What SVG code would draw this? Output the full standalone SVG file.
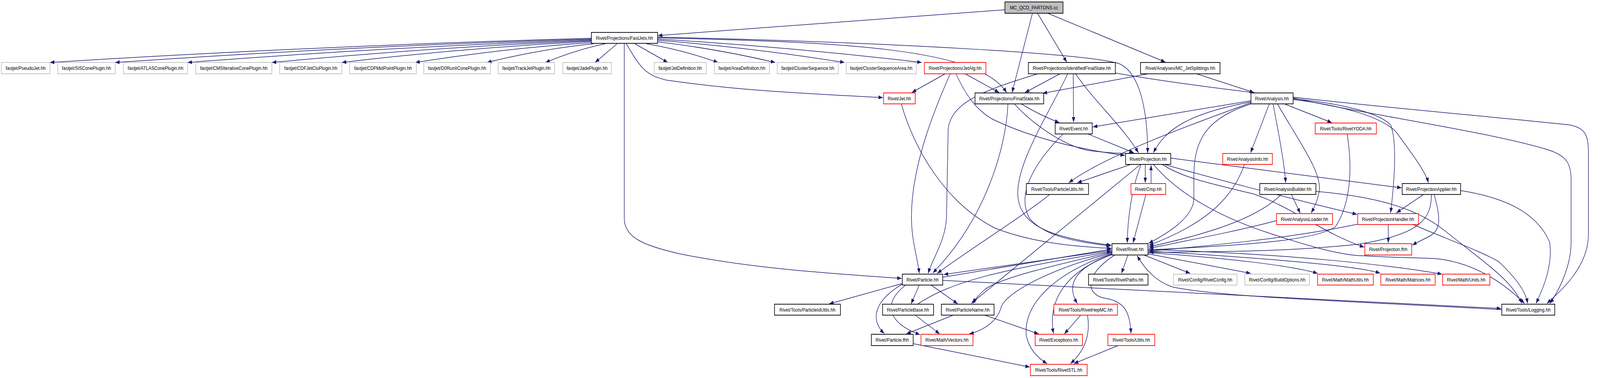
<svg xmlns="http://www.w3.org/2000/svg" width="4680" height="968" viewBox="0 0 4680 968">
<style>
.bg{fill:#fff}
.e{fill:none;stroke:#191970;stroke-width:1.5;marker-end:url(#a)}
.node rect{fill:#fff;stroke:#000;stroke-width:1.8}
.red rect{stroke:#ff0000}
.gray rect{stroke:#bfbfbf}
.root rect{fill:#bfbfbf}
.node text{font-family:"Liberation Sans",Arial,Helvetica,sans-serif;font-size:13px;text-anchor:middle;fill:#000}
</style>
<defs>
<marker id="a" markerUnits="userSpaceOnUse" markerWidth="14" markerHeight="10" refX="13" refY="5" orient="auto">
<path d="M0,0 L13,5 L0,10 z" fill="#191970"/>
</marker>
</defs>
<rect class="bg" x="0" y="0" width="4680" height="968"/>
<g id="diagram" transform="scale(0.87 1)">
<g id="edges">
<path class="e" d="M2957,25 L1936,91"/>
<path class="e" d="M3038,34 L2978,237"/>
<path class="e" d="M3053,34 L3139,159"/>
<path class="e" d="M3083,34 L3429,159"/>
<path class="e" d="M1740,98 Q943,117 147,160"/>
<path class="e" d="M1740,100 Q1040,118 339,160"/>
<path class="e" d="M1740,102 Q1146,120 552,160"/>
<path class="e" d="M1740,104 Q1270,121 800,160"/>
<path class="e" d="M1740,106 Q1373,122 1006,160"/>
<path class="e" d="M1742,109 Q1480,124 1222,160"/>
<path class="e" d="M1747,112 Q1590,126 1433,160"/>
<path class="e" d="M1781,112 Q1693,128 1605,160"/>
<path class="e" d="M1816,112 L1751,160"/>
<path class="e" d="M1868,112 L1965,160"/>
<path class="e" d="M1902,112 Q2010,128 2113,160"/>
<path class="e" d="M1935,107 Q2110,125 2281,160"/>
<path class="e" d="M1935,103 Q2210,122 2485,160"/>
<path class="e" d="M1935,100 Q2320,120 2712,160"/>
<path class="e" d="M1936,97 C2500,108 2880,125 2962,237"/>
<path class="e" d="M1936,95 C2700,110 3200,140 3290,162 C3360,185 3377,300 3377,392"/>
<path class="e" d="M1843,112 C1885,175 1900,192 1960,205 C2200,235 2400,240 2598,250"/>
<path class="e" d="M1837,112 L1837,560 C1837,610 1900,630 2000,650 C2200,685 2400,698 2653,713"/>
<path class="e" d="M2781,189 L2683,237"/>
<path class="e" d="M2840,189 L2940,237"/>
<path class="e" d="M2796,189 C2760,260 2680,420 2682,560 C2683,620 2700,660 2705,700"/>
<path class="e" d="M2813,189 C2840,240 2870,280 2920,305 C3050,360 3200,385 3310,398"/>
<path class="e" d="M2652,266 C2690,380 2780,520 2930,585 C3050,625 3180,632 3270,636"/>
<path class="e" d="M2966,266 C2960,380 2900,560 2745,699"/>
<path class="e" d="M2985,266 C3030,310 3120,370 3200,385 C3260,392 3300,394 3336,392"/>
<path class="e" d="M3005,266 C3050,290 3090,305 3117,314"/>
<path class="e" d="M3119,189 L3016,237"/>
<path class="e" d="M3379,189 L3068,239"/>
<path class="e" d="M3054,189 C2900,230 2800,260 2790,330 L2785,560 C2780,620 2745,660 2731,700"/>
<path class="e" d="M3158,189 L3159,313"/>
<path class="e" d="M3165,189 C3220,260 3300,320 3350,391"/>
<path class="e" d="M3142,189 C3080,300 2990,420 2995,500 C3000,580 3100,610 3270,628"/>
<path class="e" d="M3282,187 C3700,250 4300,290 4620,320 C4670,330 4674,350 4674,400 L4674,600 C4674,680 4600,740 4552,777"/>
<path class="e" d="M3521,189 L3690,237"/>
<path class="e" d="M3201,343 L3336,391"/>
<path class="e" d="M3128,343 C3040,420 2990,500 3030,560 C3080,610 3180,620 3268,630"/>
<path class="e" d="M3681,258 L3216,325"/>
<path class="e" d="M3681,261 C3500,290 3430,330 3394,391"/>
<path class="e" d="M3681,263 C3500,320 3250,400 3145,468"/>
<path class="e" d="M3681,266 C3560,300 3513,350 3513,450 L3513,510 C3510,560 3430,600 3380,623"/>
<path class="e" d="M3735,266 L3680,391"/>
<path class="e" d="M3746,266 C3760,330 3780,420 3783,468"/>
<path class="e" d="M3759,266 C3820,360 3890,440 3882,490 C3875,520 3865,535 3858,545"/>
<path class="e" d="M3779,266 L3919,314"/>
<path class="e" d="M3806,255 C3950,270 4070,300 4110,340 C4160,400 4195,440 4203,468"/>
<path class="e" d="M3806,253 C3950,265 4060,290 4092,320 C4110,360 4105,450 4092,545"/>
<path class="e" d="M3806,251 C4000,290 4400,340 4560,385 C4610,400 4623,420 4623,460 L4623,620 C4623,680 4590,740 4561,777"/>
<path class="e" d="M3964,343 C3980,430 3975,520 3930,580 C3870,620 3600,630 3381,640"/>
<path class="e" d="M3662,421 C3630,500 3560,570 3381,628"/>
<path class="e" d="M3770,498 C3700,560 3550,600 3381,632"/>
<path class="e" d="M3800,498 L3826,546"/>
<path class="e" d="M3872,490 C4000,500 4150,520 4250,590 C4380,680 4450,720 4478,777"/>
<path class="e" d="M3756,565 C3650,590 3500,615 3381,636"/>
<path class="e" d="M3995,574 C3800,610 3550,630 3381,643"/>
<path class="e" d="M4085,575 L4085,622"/>
<path class="e" d="M4158,575 C4250,610 4350,640 4410,670 C4470,720 4490,750 4495,777"/>
<path class="e" d="M4189,498 L4109,545"/>
<path class="e" d="M4212,498 C4212,560 4180,600 4000,625 C3800,645 3550,645 3381,646"/>
<path class="e" d="M4220,498 C4240,560 4240,590 4206,605 C4185,615 4170,620 4156,628"/>
<path class="e" d="M4298,488 C4420,505 4520,540 4560,620 C4570,680 4540,740 4520,777"/>
<path class="e" d="M3446,405 L4124,481"/>
<path class="e" d="M3426,421 C3520,445 3800,510 3993,549"/>
<path class="e" d="M3420,421 C3480,455 3560,470 3690,497 C3800,530 3900,600 4014,633"/>
<path class="e" d="M3394,421 C3470,500 3600,560 3745,600 C3850,630 3950,655 4013,655 C4100,660 4180,660 4220,662 C4330,670 4420,720 4486,777"/>
<path class="e" d="M3328,421 L3170,468"/>
<path class="e" d="M3356,421 L2858,777"/>
<path class="e" d="M3358,421 C3330,480 3318,560 3317,622"/>
<path class="e" d="M3370,421 L3370,468"/>
<path class="e" d="M3387,470 L3387,423"/>
<path class="e" d="M3372,498 L3334,622"/>
<path class="e" d="M3089,498 C3000,560 2850,640 2758,700"/>
<path class="e" d="M3319,653 L3300,700"/>
<path class="e" d="M3366,653 L3502,700"/>
<path class="e" d="M3378,650 L3680,700"/>
<path class="e" d="M3378,647 C3600,660 3800,680 3877,700"/>
<path class="e" d="M3378,643 C3700,660 4000,680 4061,700"/>
<path class="e" d="M3378,639 C3800,650 4100,680 4243,702"/>
<path class="e" d="M2774,718 C3200,740 3800,760 4417,790"/>
<path class="e" d="M4419,793 C4000,772 3600,762 3450,735 C3400,720 3370,690 3346,655"/>
<path class="e" d="M3275,650 C3180,680 3130,720 3170,777"/>
<path class="e" d="M3272,652 C3150,690 3080,760 3100,854"/>
<path class="e" d="M3272,649 C3100,700 3010,780 3020,860 C3030,900 3060,920 3081,931"/>
<path class="e" d="M3280,653 C3180,710 3200,760 3260,765 C3310,775 3325,800 3328,854"/>
<path class="e" d="M3272,647 C3050,700 2950,760 2945,790 C2930,830 2880,850 2852,855"/>
<path class="e" d="M3272,645 C3100,680 2950,710 2900,740 C2880,755 2870,765 2864,777"/>
<path class="e" d="M3272,641 L2777,703"/>
<path class="e" d="M2774,710 L3270,638"/>
<path class="e" d="M2700,779 C2800,720 2950,690 3270,644"/>
<path class="e" d="M2655,726 L2440,778"/>
<path class="e" d="M2705,730 L2681,778"/>
<path class="e" d="M2740,730 L2818,778"/>
<path class="e" d="M2660,725 C2570,770 2560,820 2602,854"/>
<path class="e" d="M2665,730 C2590,780 2620,830 2707,857"/>
<path class="e" d="M2693,807 L2765,855"/>
<path class="e" d="M2805,807 L2667,855"/>
<path class="e" d="M2897,807 L3056,855"/>
<path class="e" d="M3180,807 L3132,855"/>
<path class="e" d="M3200,807 C3210,860 3190,900 3150,931"/>
<path class="e" d="M3290,885 L3160,931"/>
<path class="e" d="M2687,880 L3030,940"/>
</g>
<g id="n_mc" class="node root"><rect x="2957" y="5" width="171" height="29"/><text x="3042.5" y="24">MC_QCD_PARTONS.cc</text></g>
<g id="n_fastjets" class="node"><rect x="1740" y="83" width="195" height="28"/><text x="1837.5" y="102">Rivet/Projections/FastJets.hh</text></g>
<g id="n_pseudojet" class="node gray"><rect x="4" y="160" width="143" height="29"/><text x="75.5" y="179">fastjet/PseudoJet.hh</text></g>
<g id="n_siscone" class="node gray"><rect x="170" y="160" width="169" height="29"/><text x="254.5" y="179">fastjet/SISConePlugin.hh</text></g>
<g id="n_atlascone" class="node gray"><rect x="363" y="160" width="189" height="29"/><text x="457.5" y="179">fastjet/ATLASConePlugin.hh</text></g>
<g id="n_cmsit" class="node gray"><rect x="576" y="160" width="224" height="29"/><text x="688" y="179">fastjet/CMSIterativeConePlugin.hh</text></g>
<g id="n_cdfjetclu" class="node gray"><rect x="823" y="160" width="183" height="29"/><text x="914.5" y="179">fastjet/CDFJetCluPlugin.hh</text></g>
<g id="n_cdfmid" class="node gray"><rect x="1029" y="160" width="196" height="29"/><text x="1127" y="179">fastjet/CDFMidPointPlugin.hh</text></g>
<g id="n_d0run" class="node gray"><rect x="1247" y="160" width="196" height="29"/><text x="1345" y="179">fastjet/D0RunIIConePlugin.hh</text></g>
<g id="n_trackjet" class="node gray"><rect x="1466" y="160" width="166" height="29"/><text x="1549" y="179">fastjet/TrackJetPlugin.hh</text></g>
<g id="n_jade" class="node gray"><rect x="1656" y="160" width="143" height="29"/><text x="1727.5" y="179">fastjet/JadePlugin.hh</text></g>
<g id="n_jetdef" class="node gray"><rect x="1925" y="160" width="153" height="29"/><text x="2001.5" y="179">fastjet/JetDefinition.hh</text></g>
<g id="n_areadef" class="node gray"><rect x="2102" y="160" width="162" height="29"/><text x="2183" y="179">fastjet/AreaDefinition.hh</text></g>
<g id="n_clseq" class="node gray"><rect x="2287" y="160" width="180" height="29"/><text x="2377" y="179">fastjet/ClusterSequence.hh</text></g>
<g id="n_clseqarea" class="node gray"><rect x="2490" y="160" width="206" height="29"/><text x="2593" y="179">fastjet/ClusterSequenceArea.hh</text></g>
<g id="n_jetalg" class="node red"><rect x="2720" y="160" width="181" height="29"/><text x="2810.5" y="179">Rivet/Projections/JetAlg.hh</text></g>
<g id="n_ifs" class="node"><rect x="3026" y="160" width="256" height="29"/><text x="3154" y="179">Rivet/Projections/IdentifiedFinalState.hh</text></g>
<g id="n_mcjs" class="node"><rect x="3356" y="160" width="234" height="29"/><text x="3473" y="179">Rivet/Analyses/MC_JetSplittings.hh</text></g>
<g id="n_jet" class="node red"><rect x="2600" y="238" width="93" height="28"/><text x="2646.5" y="257">Rivet/Jet.hh</text></g>
<g id="n_finalstate" class="node"><rect x="2869" y="238" width="202" height="28"/><text x="2970" y="257">Rivet/Projections/FinalState.hh</text></g>
<g id="n_analysis" class="node"><rect x="3681" y="238" width="124" height="28"/><text x="3743" y="257">Rivet/Analysis.hh</text></g>
<g id="n_event" class="node"><rect x="3105" y="315" width="109" height="28"/><text x="3159.5" y="334">Rivet/Event.hh</text></g>
<g id="n_yoda" class="node red"><rect x="3870" y="315" width="180" height="28"/><text x="3960" y="334">Rivet/Tools/RivetYODA.hh</text></g>
<g id="n_projection" class="node"><rect x="3312" y="393" width="133" height="28"/><text x="3378.5" y="412">Rivet/Projection.hh</text></g>
<g id="n_anainfo" class="node red"><rect x="3598" y="393" width="146" height="28"/><text x="3671" y="412">Rivet/AnalysisInfo.hh</text></g>
<g id="n_partutils" class="node"><rect x="3020" y="470" width="183" height="28"/><text x="3111.5" y="489">Rivet/Tools/ParticleUtils.hh</text></g>
<g id="n_cmp" class="node red"><rect x="3328" y="470" width="102" height="28"/><text x="3379" y="489">Rivet/Cmp.hh</text></g>
<g id="n_anabuilder" class="node"><rect x="3707" y="470" width="165" height="28"/><text x="3789.5" y="489">Rivet/AnalysisBuilder.hh</text></g>
<g id="n_projapplier" class="node"><rect x="4126" y="470" width="172" height="28"/><text x="4212" y="489">Rivet/ProjectionApplier.hh</text></g>
<g id="n_analoader" class="node red"><rect x="3756" y="547" width="165" height="28"/><text x="3838.5" y="566">Rivet/AnalysisLoader.hh</text></g>
<g id="n_projhandler" class="node red"><rect x="3995" y="547" width="179" height="28"/><text x="4084.5" y="566">Rivet/ProjectionHandler.hh</text></g>
<g id="n_rivet" class="node"><rect x="3272" y="624" width="106" height="29"/><text x="3325" y="643">Rivet/Rivet.hh</text></g>
<g id="n_projfhh" class="node red"><rect x="4016" y="624" width="138" height="29"/><text x="4085" y="643">Rivet/Projection.fhh</text></g>
<g id="n_particle" class="node"><rect x="2655" y="702" width="119" height="28"/><text x="2714.5" y="721">Rivet/Particle.hh</text></g>
<g id="n_rivetpaths" class="node"><rect x="3203" y="702" width="175" height="28"/><text x="3290.5" y="721">Rivet/Tools/RivetPaths.hh</text></g>
<g id="n_rivetconfig" class="node gray"><rect x="3453" y="702" width="187" height="28"/><text x="3546.5" y="721">Rivet/Config/RivetConfig.hh</text></g>
<g id="n_buildopts" class="node gray"><rect x="3663" y="702" width="190" height="28"/><text x="3758" y="721">Rivet/Config/BuildOptions.hh</text></g>
<g id="n_mathutils" class="node red"><rect x="3877" y="702" width="164" height="28"/><text x="3959" y="721">Rivet/Math/MathUtils.hh</text></g>
<g id="n_matrices" class="node red"><rect x="4063" y="702" width="160" height="28"/><text x="4143" y="721">Rivet/Math/Matrices.hh</text></g>
<g id="n_units" class="node red"><rect x="4245" y="702" width="139" height="28"/><text x="4314.5" y="721">Rivet/Math/Units.hh</text></g>
<g id="n_pidutils" class="node"><rect x="2279" y="779" width="194" height="28"/><text x="2376" y="798">Rivet/Tools/ParticleIdUtils.hh</text></g>
<g id="n_partbase" class="node"><rect x="2597" y="779" width="150" height="28"/><text x="2672" y="798">Rivet/ParticleBase.hh</text></g>
<g id="n_partname" class="node"><rect x="2770" y="779" width="155" height="28"/><text x="2847.5" y="798">Rivet/ParticleName.hh</text></g>
<g id="n_hepmc" class="node red"><rect x="3101" y="779" width="187" height="28"/><text x="3194.5" y="798">Rivet/Tools/RivetHepMC.hh</text></g>
<g id="n_logging" class="node"><rect x="4419" y="779" width="156" height="28"/><text x="4497" y="798">Rivet/Tools/Logging.hh</text></g>
<g id="n_partfhh" class="node"><rect x="2564" y="856" width="123" height="29"/><text x="2625.5" y="875">Rivet/Particle.fhh</text></g>
<g id="n_vectors" class="node red"><rect x="2710" y="856" width="153" height="29"/><text x="2786.5" y="875">Rivet/Math/Vectors.hh</text></g>
<g id="n_exceptions" class="node red"><rect x="3046" y="856" width="139" height="29"/><text x="3115.5" y="875">Rivet/Exceptions.hh</text></g>
<g id="n_utils" class="node red"><rect x="3260" y="856" width="138" height="29"/><text x="3329" y="875">Rivet/Tools/Utils.hh</text></g>
<g id="n_rivetstl" class="node red"><rect x="3032" y="933" width="167" height="29"/><text x="3115.5" y="952">Rivet/Tools/RivetSTL.hh</text></g>
</g>
</svg>
